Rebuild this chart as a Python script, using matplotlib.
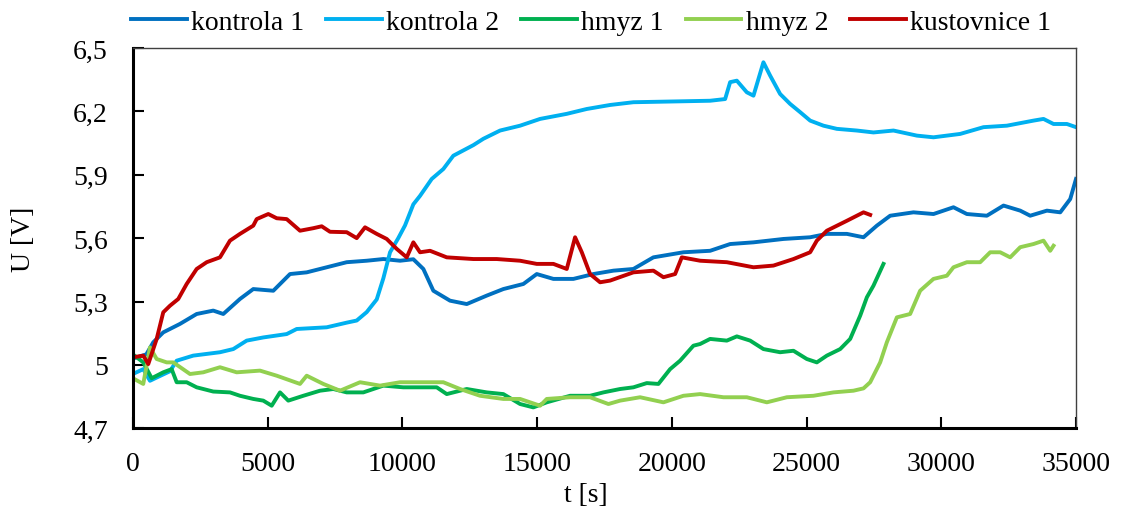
import matplotlib
matplotlib.use("Agg")
import matplotlib.pyplot as plt
from matplotlib.ticker import FuncFormatter, FixedLocator, MultipleLocator

plt.rcParams['font.family'] = ['Liberation Serif', 'DejaVu Serif']
plt.rcParams['font.size'] = 20

# --- data ---
k1_t = [0, 500, 757, 1128, 1748, 2368, 2984, 3356, 3975, 4469, 5212, 5832, 6451, 7194, 7936,
        8679, 9296, 9915, 10409, 10780, 11151, 11770, 12391, 13133, 13749, 14492, 14989, 15606,
        16348, 17090, 17833, 18575, 19317, 20431, 21422, 22165, 23031, 24145, 25134, 25754,
        26497, 27114, 27610, 28104, 28968, 29711, 30453, 30950, 31692, 32310, 32930, 33300,
        33920, 34415, 34786, 35000]
k1_u = [5.03, 5.05, 5.107, 5.154, 5.194, 5.241, 5.257, 5.241, 5.312, 5.359, 5.351, 5.43, 5.438,
        5.462, 5.486, 5.493, 5.501, 5.493, 5.50, 5.454, 5.351, 5.304, 5.288, 5.328, 5.359, 5.383,
        5.43, 5.407, 5.407, 5.43, 5.446, 5.454, 5.509, 5.533, 5.54, 5.572, 5.58, 5.596, 5.604,
        5.62, 5.62, 5.604, 5.659, 5.706, 5.722, 5.714, 5.746, 5.714, 5.706, 5.754, 5.73, 5.706,
        5.73, 5.722, 5.785, 5.88]

k2_t = [0, 386, 635, 880, 1377, 1626, 2240, 3233, 3727, 4224, 4840, 5709, 6080, 7194, 7936, 8307,
        8679, 9050, 9296, 9544, 9850, 10100, 10409, 10657, 11091, 11522, 11893, 12636, 13007,
        13627, 14370, 15112, 16102, 16844, 17710, 18575, 19815, 21422, 21979, 22165, 22413,
        22784, 23031, 23400, 23649, 24020, 24391, 24763, 25134, 25628, 26125, 26868, 27484,
        28226, 29095, 29711, 30702, 31568, 32435, 33423, 33794, 34166, 34663, 35000]
k2_u = [4.957, 4.98, 4.925, 4.94, 4.97, 5.02, 5.044, 5.06, 5.075, 5.115, 5.13, 5.146, 5.17, 5.178,
        5.20, 5.21, 5.25, 5.31, 5.41, 5.533, 5.60, 5.66, 5.76, 5.80, 5.88, 5.927, 5.99, 6.04,
        6.07, 6.109, 6.132, 6.164, 6.188, 6.211, 6.23, 6.243, 6.246, 6.25, 6.258, 6.338, 6.345,
        6.29, 6.274, 6.432, 6.369, 6.282, 6.235, 6.196, 6.156, 6.132, 6.117, 6.109, 6.10, 6.109,
        6.085, 6.077, 6.093, 6.125, 6.132, 6.156, 6.164, 6.14, 6.14, 6.125]

h1_t = [0, 386, 698, 1128, 1440, 1626, 1997, 2368, 2984, 3604, 3975, 4469, 4840, 5152, 5461,
        5768, 6325, 6945, 7439, 7936, 8552, 9296, 10037, 10657, 11277, 11648, 12391, 13133,
        13749, 14370, 14862, 15360, 16226, 16967, 17462, 18081, 18575, 19072, 19503, 19937,
        20308, 20802, 21051, 21422, 22042, 22413, 22908, 23400, 24020, 24515, 25010, 25382,
        25754, 26249, 26620, 26991, 27239, 27484, 27855]
h1_u = [5.05, 5.012, 4.937, 4.965, 4.98, 4.918, 4.918, 4.894, 4.874, 4.87, 4.854, 4.839, 4.831,
        4.807, 4.87, 4.831, 4.854, 4.878, 4.886, 4.87, 4.87, 4.902, 4.894, 4.894, 4.894, 4.862,
        4.886, 4.87, 4.862, 4.815, 4.799, 4.823, 4.854, 4.854, 4.87, 4.886, 4.894, 4.914, 4.91,
        4.98, 5.02, 5.091, 5.099, 5.123, 5.115, 5.135, 5.115, 5.075, 5.06, 5.067, 5.028, 5.012,
        5.044, 5.075, 5.123, 5.233, 5.32, 5.375, 5.478]

h2_t = [0, 386, 635, 884, 1255, 1500, 2120, 2613, 3233, 3853, 4718, 5338, 6203, 6451, 7068, 7688,
        8430, 9172, 9915, 10657, 11522, 12142, 12884, 13749, 14370, 15112, 15360, 16226, 16967,
        17648, 18081, 18823, 19689, 20431, 21051, 21916, 22784, 23527, 24269, 25257, 26000,
        26742, 27114, 27362, 27733, 27980, 28352, 28845, 29216, 29711, 30207, 30453, 30950,
        31444, 31815, 32187, 32558, 32930, 33423, 33794, 34043, 34166]
h2_u = [4.937, 4.91, 5.083, 5.028, 5.012, 5.012, 4.957, 4.965, 4.989, 4.965, 4.973, 4.949, 4.91,
        4.949, 4.91, 4.878, 4.918, 4.902, 4.918, 4.918, 4.918, 4.886, 4.854, 4.839, 4.839, 4.807,
        4.839, 4.847, 4.847, 4.815, 4.831, 4.847, 4.823, 4.854, 4.862, 4.847, 4.847, 4.823,
        4.847, 4.854, 4.87, 4.878, 4.889, 4.918, 5.012, 5.107, 5.225, 5.241, 5.351, 5.407, 5.422,
        5.462, 5.486, 5.486, 5.533, 5.533, 5.509, 5.557, 5.572, 5.588, 5.54, 5.564]

ku_t = [0, 386, 572, 884, 1128, 1377, 1685, 1997, 2368, 2740, 3233, 3604, 3975, 4469, 4595, 5026,
        5338, 5709, 6203, 6697, 7008, 7316, 7936, 8307, 8616, 9050, 9421, 9792, 10163, 10409,
        10657, 11029, 11648, 12636, 13504, 14370, 14989, 15606, 16102, 16411, 16660, 16967,
        17339, 17710, 18575, 19317, 19689, 20123, 20371, 21051, 22042, 23031, 23772, 24515,
        25134, 25382, 25754, 26497, 27114, 27362]
ku_u = [5.036, 5.044, 5.004, 5.123, 5.249, 5.28, 5.312, 5.383, 5.454, 5.486, 5.509, 5.588, 5.62,
        5.659, 5.69, 5.714, 5.694, 5.69, 5.635, 5.647, 5.656, 5.63, 5.628, 5.6, 5.651, 5.62,
        5.596, 5.549, 5.509, 5.58, 5.533, 5.54, 5.509, 5.501, 5.501, 5.493, 5.478, 5.478, 5.454,
        5.604, 5.533, 5.43, 5.391, 5.399, 5.438, 5.446, 5.415, 5.43, 5.509, 5.493, 5.486, 5.462,
        5.47, 5.501, 5.533, 5.588, 5.635, 5.682, 5.722, 5.71]

y_ticks = [4.7, 5.0, 5.3, 5.6, 5.9, 6.2, 6.5]

series = [
    ("kontrola 1", k1_t, k1_u, "#0070C0"),
    ("kontrola 2", k2_t, k2_u, "#00B0F0"),
    ("hmyz 1", h1_t, h1_u, "#00B050"),
    ("hmyz 2", h2_t, h2_u, "#92D050"),
    ("kustovnice 1", ku_t, ku_u, "#C00000"),
]

fig = plt.figure(figsize=(11.24, 5.10), dpi=100)
ax = fig.add_axes([0.1182, 0.1582, 0.8391, 0.7459])

for name, t, u, col in series:
    ax.plot(t, u, color=col, lw=2.8, label=name, solid_joinstyle='round')

ax.set_xlim(0, 35000)
ax.set_ylim(4.7, 6.5)
ax.xaxis.set_major_locator(MultipleLocator(5000))
ax.yaxis.set_major_locator(FixedLocator(y_ticks))
ax.yaxis.set_major_formatter(FuncFormatter(lambda v, p: f"{v:.1f}".rstrip('0').rstrip('.').replace('.', ',')))

ax.tick_params(direction='in', length=8, width=1.5, color='black')
ax.tick_params(axis='y', pad=18)
ax.tick_params(axis='x', pad=16)
ax.tick_params(top=False, right=False)

for s in ['left', 'bottom']:
    ax.spines[s].set_linewidth(2.2)
for s in ['top', 'right']:
    ax.spines[s].set_linewidth(1.0)
    ax.spines[s].set_color('#404040')

ax.set_xlabel("t [s]")
ax.set_ylabel("U [V]")
ax.xaxis.set_label_coords(0.48, -0.14)
ax.yaxis.set_label_coords(-0.103, 0.5)

fig.legend(loc='center', bbox_to_anchor=(0.526, 0.955), ncol=5, frameon=False,
           handlelength=2.0, handletextpad=0.15, columnspacing=0.8, borderaxespad=0)

fig.savefig("out.png", dpi=100)
